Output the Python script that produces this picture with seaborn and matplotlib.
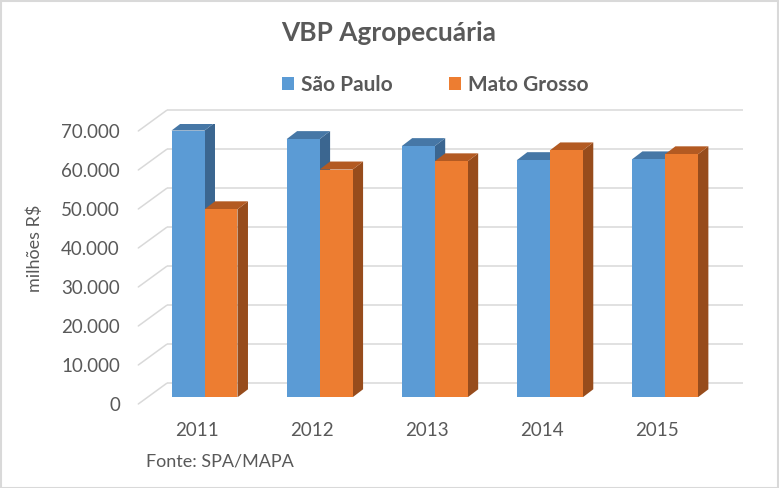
import matplotlib
matplotlib.use('Agg')
import matplotlib.pyplot as plt
import matplotlib.transforms as mtransforms
from matplotlib.patches import Polygon, Rectangle
import pandas as pd
import seaborn as sns

# ── Dados ──
anos = ['2011', '2012', '2013', '2014', '2015']
sao_paulo = [68400, 66200, 64400, 60800, 61000]
mato_grosso = [48200, 58400, 60500, 63300, 62300]
estados = ['São Paulo', 'Mato Grosso']
y_ticks = [0, 10000, 20000, 30000, 40000, 50000, 60000, 70000]
y_rotulos = ['0', '10.000', '20.000', '30.000', '40.000', '50.000', '60.000', '70.000']

# ── Cores (frente, lateral, topo) ──
cor_frente = {'São Paulo': '#5b9bd5', 'Mato Grosso': '#ed7d31'}
cor_lado = {'São Paulo': '#3b6690', 'Mato Grosso': '#974c1c'}
cor_topo = {'São Paulo': '#4677a6', 'Mato Grosso': '#b35a22'}
CINZA = '#595959'
GRADE = '#d9d9d9'

sns.set_style('white')
plt.rcParams['font.family'] = ['Lato', 'DejaVu Sans']

df = pd.DataFrame({
    'ano': anos * 2,
    'estado': [estados[0]] * len(anos) + [estados[1]] * len(anos),
    'valor': sao_paulo + mato_grosso,
})

W, H = 779, 488
fig = plt.figure(figsize=(W / 100, H / 100), dpi=100)
ax = fig.add_axes([146.95 / W, 90.7 / H, 575.5 / W, 273 / H])

sns.barplot(data=df, x='ano', y='valor', hue='estado', palette=cor_frente,
            width=0.573, saturation=1, errorbar=None, linewidth=0,
            zorder=3, ax=ax)
ax.set_xlim(-0.5, 4.5)
ax.set_ylim(0, 70000)

# profundidade 3D em unidades de dados
px_x = 1 / 115.1          # 1 px no eixo x
px_y = 10000 / 39         # 1 px no eixo y
dx, dy = 10.5 * px_x, 8 * px_y

for estado, cont in zip(estados, ax.containers):
    for barra in cont:
        x0 = barra.get_x()
        x1 = x0 + barra.get_width()
        h = barra.get_height()
        lado = Polygon([(x1, 0), (x1 + dx, dy), (x1 + dx, h + dy), (x1, h)],
                       closed=True, facecolor=cor_lado[estado], edgecolor='none', zorder=2)
        topo = Polygon([(x0, h), (x0 + dx, h + dy), (x1 + dx, h + dy), (x1, h)],
                       closed=True, facecolor=cor_topo[estado], edgecolor='none', zorder=2)
        ax.add_patch(lado)
        ax.add_patch(topo)

# ── Grade na parede de fundo ──
x_frente = (138.3 - 204.5) * px_x
x_fundo_ini = (166.7 - 204.5) * px_x
x_fundo_fim = (742.7 - 204.5) * px_x
for v in y_ticks:
    yb = v + 14 * px_y
    yf = v - 6.7 * px_y
    ax.plot([x_fundo_ini, x_fundo_fim], [yb, yb], color=GRADE, lw=1.1,
            zorder=1, clip_on=False, solid_capstyle='butt')
    ax.plot([x_frente, x_fundo_ini], [yf, yb], color=GRADE, lw=1.1,
            zorder=1, clip_on=False)

ax.grid(False)
sns.despine(ax=ax, left=True, bottom=True)
ax.set_xlabel('')
ax.set_ylabel('')
ax.set_yticks(y_ticks)
ax.set_yticklabels(y_rotulos)
ax.tick_params(axis='both', length=0, labelsize=13.5, labelcolor=CINZA)
ax.tick_params(axis='y', pad=19.4)
ax.tick_params(axis='x', pad=18)

desl_y = mtransforms.ScaledTranslation(0, -6.7 / 100, fig.dpi_scale_trans)
for rot in ax.get_yticklabels():
    rot.set_transform(rot.get_transform() + desl_y)
desl_x = mtransforms.ScaledTranslation(-8 / 100, 0, fig.dpi_scale_trans)
for rot in ax.get_xticklabels():
    rot.set_transform(rot.get_transform() + desl_x)

# ── Legenda ──
sns.move_legend(ax, 'center', bbox_to_anchor=(435.4 / W, 1 - 85 / H),
                bbox_transform=fig.transFigure, ncol=2, title=None, frameon=False,
                fontsize=15, handlelength=0.56, handleheight=0.56,
                handletextpad=0.37, columnspacing=2.68)
for t in ax.get_legend().get_texts():
    t.set_color(CINZA)
    t.set_fontweight('bold')

# ── Textos ──
fig.text(389 / W, 1 - 33.3 / H, 'VBP Agropecuária', ha='center', va='center',
         fontsize=18.9, fontweight='bold', color=CINZA)
fig.text(35 / W, 1 - 248 / H, 'milhões R$', ha='center', va='center',
         rotation=90, fontsize=13, color=CINZA)
fig.text(146 / W, 1 - 461.7 / H, 'Fonte: SPA/MAPA', ha='left', va='center',
         fontsize=13, color=CINZA)

fig.patches.append(Rectangle((0.5 / W, 0.5 / H), 1 - 1.5 / W, 1 - 1.5 / H,
                             transform=fig.transFigure, fill=False,
                             edgecolor=GRADE, linewidth=1.5))

fig.savefig('out.png', dpi=100)
plt.close(fig)
